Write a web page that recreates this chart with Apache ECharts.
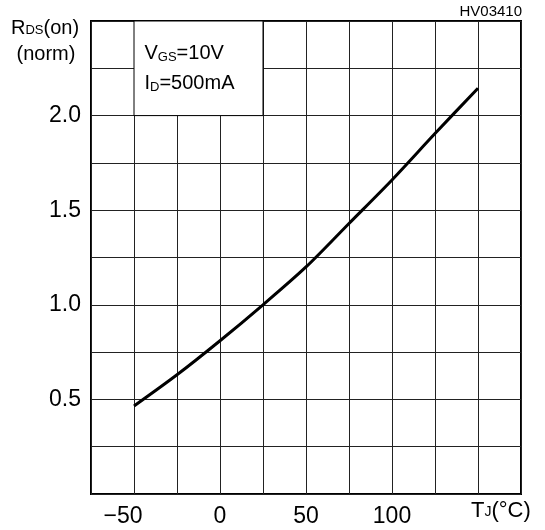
<!DOCTYPE html>
<html>
<head>
<meta charset="utf-8">
<script src="https://cdn.jsdelivr.net/npm/echarts@6/dist/echarts.min.js"></script>
<style>
  html, body { margin: 0; padding: 0; background: #fff; }
  #chart { width: 545px; height: 530px; }
</style>
</head>
<body>
<div id="chart"></div>
<script>
// Tj (°C) vs normalised Rds(on)
const tempC = [-50, -25, 0, 25, 50, 75, 100, 125, 150];
const rdsNorm = [0.465, 0.63, 0.81, 1.0, 1.2, 1.43, 1.66, 1.905, 2.145];

const xLabels = [-50, 0, 50, 100];
const yLabels = [0.5, 1.0, 1.5, 2.0];

const chart = echarts.init(document.getElementById('chart'));
const font = 'Liberation Sans';

const option = {
  animation: false,
  backgroundColor: '#fff',
  grid: {
    left: 91,
    right: 24,
    top: 21,
    bottom: 36,
    show: true,
    borderColor: '#000',
    borderWidth: 2
  },
  xAxis: {
    type: 'value',
    min: -75,
    max: 175,
    interval: 25,
    axisLine: { show: false },
    axisTick: { show: false },
    splitLine: { lineStyle: { color: '#222', width: 1 } },
    axisLabel: {
      margin: 11,
      fontFamily: font,
      fontSize: 23,
      color: '#000',
      formatter: function (v) {
        if (xLabels.indexOf(v) < 0) return '';
        if (v < 0) return '{neg|−' + Math.abs(v) + '}';
        return String(v);
      },
      rich: {
        neg: { fontFamily: font, fontSize: 23, color: '#000', padding: [0, 22, 0, 0] }
      }
    }
  },
  yAxis: {
    type: 'value',
    min: 0,
    max: 2.5,
    interval: 0.25,
    axisLine: { show: false },
    axisTick: { show: false },
    splitLine: { lineStyle: { color: '#222', width: 1 } },
    axisLabel: {
      margin: 10,
      fontFamily: font,
      fontSize: 23,
      color: '#000',
      formatter: function (v) {
        return yLabels.some(l => Math.abs(l - v) < 1e-6) ? v.toFixed(1) : '';
      }
    }
  },
  series: [{
    type: 'line',
    data: tempC.map((t, i) => [t, rdsNorm[i]]),
    smooth: 0.3,
    showSymbol: false,
    lineStyle: { color: '#000', width: 3 },
    markArea: {
      silent: true,
      itemStyle: { color: '#fff', borderColor: '#000', borderWidth: 1 },
      label: {
        show: true,
        position: 'insideLeft',
        distance: 11,
        color: '#000',
        formatter: '{a|V}{s|GS}{a|=10V}\n{a|I}{s|D}{a|=500mA}',
        rich: {
          a: { fontFamily: font, fontSize: 20, color: '#000', lineHeight: 30 },
          s: { fontFamily: font, fontSize: 13, color: '#000', lineHeight: 22, padding: [0, 0, 4, 0], verticalAlign: 'bottom' }
        }
      },
      data: [[{ coord: [-50, 2.5] }, { coord: [25, 2.0] }]]
    }
  }],
  graphic: [
    {
      type: 'text',
      left: 11,
      top: 18,
      style: {
        text: '{a|R}{s|DS}{a|(on)}\n{a| (norm)}',
        rich: {
          a: { fontFamily: font, fontSize: 20, fill: '#000', lineHeight: 26 },
          s: { fontFamily: font, fontSize: 13, fill: '#000', lineHeight: 18, padding: [0, 0, 4, 0], verticalAlign: 'bottom' }
        }
      }
    },
    {
      type: 'text',
      right: 23,
      top: 4,
      style: { text: 'HV03410', fontFamily: font, fontSize: 15, fill: '#000' }
    },
    {
      type: 'text',
      left: 471,
      top: 500,
      style: {
        text: '{a|T}{s|J}{a|(°C)}',
        rich: {
          a: { fontFamily: font, fontSize: 22, fill: '#000' },
          s: { fontFamily: font, fontSize: 14, fill: '#000', padding: [0, 0, 3, 0], verticalAlign: 'bottom' }
        }
      }
    }
  ]
};

chart.setOption(option);
</script>
</body>
</html>
